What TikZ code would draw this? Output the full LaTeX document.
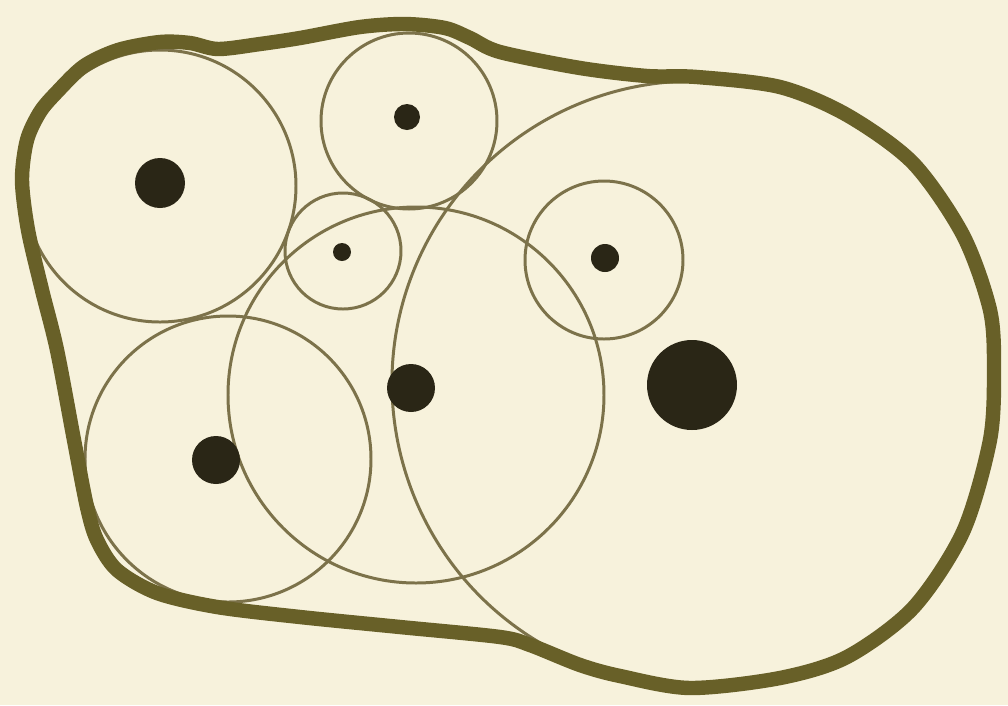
\documentclass[tikz,border=0pt]{standalone}
\usepackage{xcolor}
\usepackage{tikz}
\definecolor{PaperCream}{RGB}{247,242,220}
\definecolor{HullOlive}{RGB}{104,96,40}
\definecolor{RingOlive}{RGB}{124,114,74}
\definecolor{DotBrown}{RGB}{42,38,22}

% outline round all the discs (pixel units)
\newcommand{\hullpath}{plot[smooth cycle, tension=0.5] coordinates {
  (22,180) (27,140) (40,112) (57,92) (84,66) (118,50) (160,42) (190,43)
  (218,49) (260,44) (300,38) (360,27) (405,24) (445,28) (470,38) (500,52)
  (580,68) (647,76) (697,77) (780,87) (847,115) (913,163) (963,235)
  (990,310) (994,370) (990,440) (963,532) (913,608) (847,657) (780,678)
  (690,688) (620,676) (580,665) (530,645) (500,637) (400,627) (300,617)
  (217,607) (157,593) (117,570) (97,540) (87,507) (74,440) (57,350)
  (42,290) (28,230)}}

\begin{document}
\begin{tikzpicture}[x=0.01cm, y=-0.01cm,
          ring/.style={draw=RingOlive, line width=0.85pt},
          hull/.style={draw=HullOlive, line width=4.1pt, line join=round},
          dot/.style={fill=DotBrown}
        ]
        % Paper
        \fill[PaperCream] (0,0) rectangle (1008,705);
        \useasboundingbox (0,0) rectangle (1008,705);

        % Thin circles, kept inside the outline
        \begin{scope}
          \clip \hullpath;
          \foreach \cx/\cy/\r in {160/186/136, 409/121/88, 343/251/58,
                                  604/260/79, 416/395/188, 228/459/143} {
            \draw[ring] (\cx,\cy) circle[radius=\r];
          }
          % big disc: only its left side shows
          \draw[ring] (694,383) ++(118:302) arc[start angle=118, end angle=266, radius=302];
        \end{scope}

        % Outline
        \draw[hull] \hullpath;

        % Centres
        \foreach \cx/\cy/\r in {160/183/25, 407/117/13, 342/252/9, 605/258/14,
                                411/388/24, 216/460/24, 692/385/45} {
          \fill[dot] (\cx,\cy) circle[radius=\r];
        }
      \end{tikzpicture}
\end{document}
